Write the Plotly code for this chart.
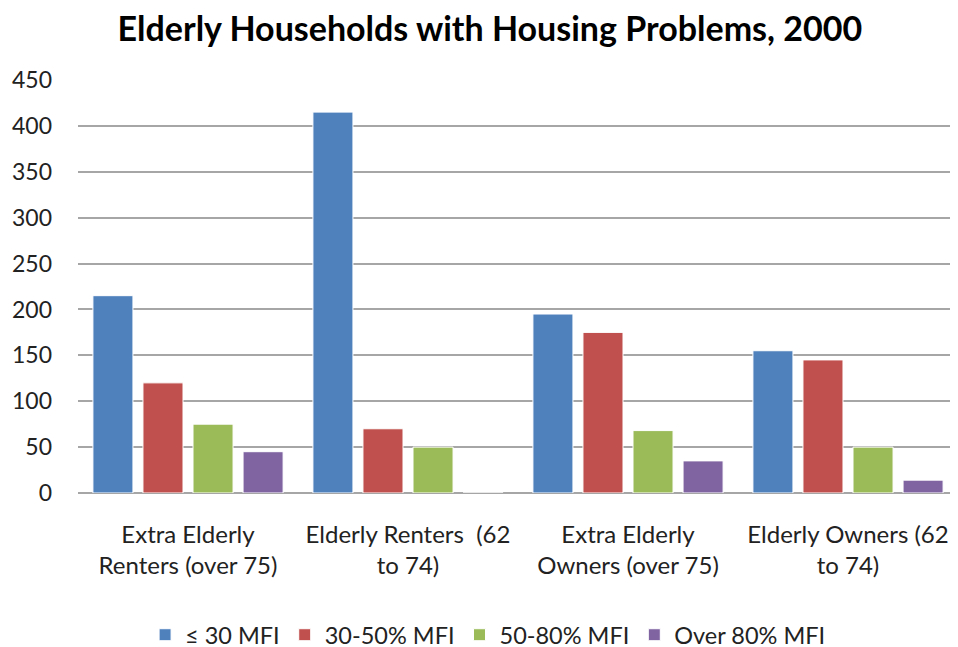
import plotly.graph_objects as go

CATEGORIES = ['Extra Elderly<br>Renters (over 75)', 'Elderly Renters  (62<br>to 74)',
              'Extra Elderly<br>Owners (over 75)', 'Elderly Owners (62<br>to 74)']
SERIES = ['\u2264 30 MFI', '30-50% MFI', '50-80% MFI', 'Over 80% MFI']
MFI_30 = [215, 415, 195, 155]
MFI_30_50 = [120, 70, 175, 145]
MFI_50_80 = [75, 50, 68, 50]
MFI_OVER_80 = [45, 0, 35, 14]
COLORS = ['#4F81BD', '#C0504D', '#9BBB59', '#8064A2']
Y_TICKS = [0, 50, 100, 150, 200, 250, 300, 350, 400, 450]

FONT = 'Lato, Calibri, sans-serif'

fig = go.Figure()
for name, vals, col in zip(SERIES, [MFI_30, MFI_30_50, MFI_50_80, MFI_OVER_80], COLORS):
    fig.add_trace(go.Bar(x=CATEGORIES, y=vals, name=name,
                         marker=dict(color=col, line=dict(color='white', width=1))))

fig.update_layout(
    width=958, height=647,
    paper_bgcolor='white', plot_bgcolor='white',
    margin=dict(l=70, r=8, t=72, b=162, autoexpand=False),
    barmode='group', bargap=0.09, bargroupgap=0.2,
    font=dict(family=FONT, size=22, color='#222222'),
    title=dict(text='<b>Elderly Households with Housing Problems, 2000</b>',
               x=0.503, xanchor='center', y=0.968, yanchor='middle',
               font=dict(family=FONT, size=34, color='black')),
    legend=dict(orientation='h', x=0.466, xanchor='center', yref='container',
                y=0.031, yanchor='middle',
                font=dict(size=23.5), itemwidth=30, traceorder='normal'),
    xaxis=dict(showline=False, showgrid=False, ticks='', automargin=False,
               tickfont=dict(size=24), tickangle=0, ticklabelstandoff=25),
    yaxis=dict(range=[0, 450], tickvals=Y_TICKS, showgrid=True, automargin=False,
               gridcolor='#a6a6a6', gridwidth=1.5, zeroline=True,
               zerolinecolor='#a6a6a6', zerolinewidth=1.5, showline=False,
               ticks='', ticklabelstandoff=25, tickfont=dict(size=23)),
)

fig.write_html("out.html")
